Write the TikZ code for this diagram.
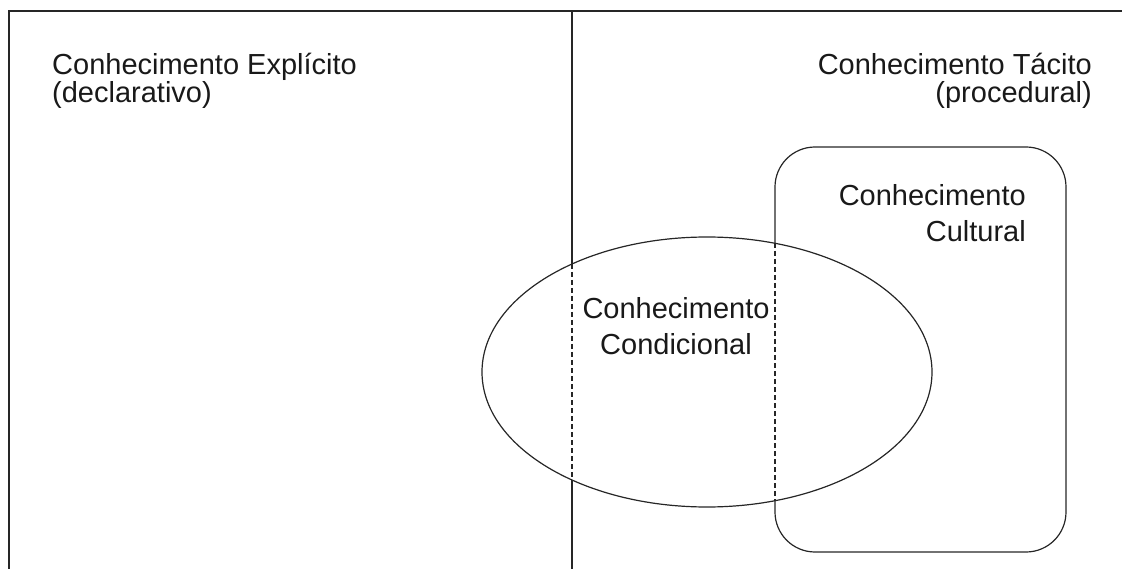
\documentclass[tikz,border=0pt]{standalone}
\usepackage{fontspec}
\setmainfont{Liberation Sans}
\usetikzlibrary{shapes.geometric}
\begin{document}
\begin{tikzpicture}[x=1pt,y=-1pt,
  frame/.style={line width=1.2pt, draw=black!85},
  dashline/.style={line width=1.1pt, draw=black!85, dash pattern=on 5pt off 3pt},
  toplbl/.style={font=\fontsize{29}{28}\selectfont, inner sep=0pt, text=black!90},
  innerlbl/.style={font=\fontsize{29}{36}\selectfont, inner sep=0pt, text=black!90}]
\useasboundingbox (0,0) rectangle (1122,569);
% outer frame (cut off at right and bottom)
\coordinate (tr) at (1122,11);
\coordinate (tl) at (9,11);
\coordinate (bl) at (9,569);
\draw[frame] (tr) -- (tl) -- (bl);
% divider
\coordinate (dtop) at (572,11);
\coordinate (dbot) at (572,569);
\draw[frame] (dtop) -- (dbot);
% cultural box
\node[frame, rounded corners=40pt, minimum width=291pt, minimum height=405pt, inner sep=0pt] (cult) at (920.5,349.5) {};
% conditional ellipse
\node[frame, fill=white, ellipse, minimum width=450pt, minimum height=270pt, inner sep=0pt] (cond) at (707,372) {};
% dashed parts inside ellipse
\coordinate (d1a) at (572,264);
\coordinate (d1b) at (572,480);
\coordinate (d2a) at (775,243);
\coordinate (d2b) at (775,501);
\draw[dashline] (d1a) -- (d1b);
\draw[dashline] (d2a) -- (d2b);
% labels (base anchor = baseline of last line)
\node[toplbl, align=left, anchor=base west] (expl) at (52,103) {Conhecimento Explícito\\(declarativo)};
\node[toplbl, align=right, anchor=base east] (tac) at (1092,103) {Conhecimento Tácito\\(procedural)};
\node[innerlbl, align=right, anchor=base east] (cultl) at (1026,242) {Conhecimento\\Cultural};
\node[innerlbl, align=center, anchor=base] (condl) at (676,355) {Conhecimento\\Condicional};
\end{tikzpicture}
\end{document}
